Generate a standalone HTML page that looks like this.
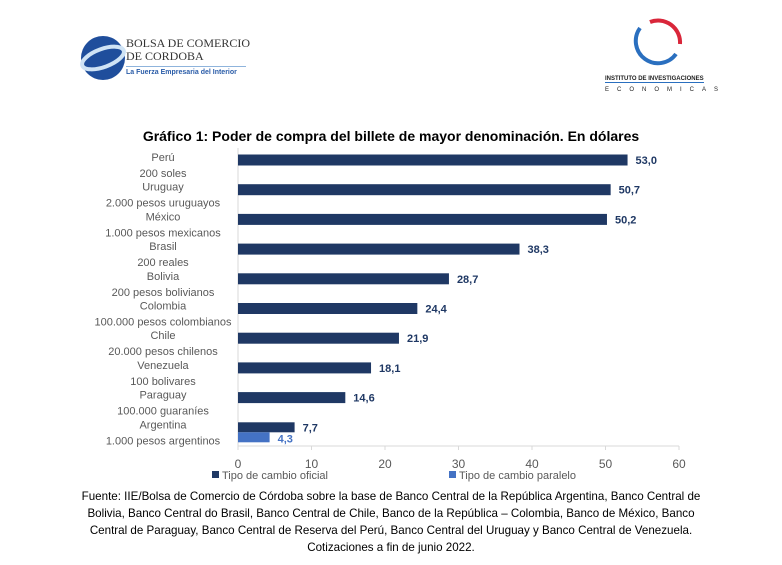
<!DOCTYPE html>
<html><head><meta charset="utf-8"><style>
body{margin:0;width:782px;height:565px;background:#fff;font-family:"Liberation Sans",sans-serif;overflow:hidden;position:relative}
.abs{position:absolute;white-space:nowrap}
</style></head><body>
<div class="abs" style="left:80px;top:32px;width:180px;height:50px">
<svg width="50" height="48" style="position:absolute;left:0;top:2px"><ellipse cx="23" cy="24" rx="22" ry="22" fill="#1f4e9c"/><ellipse cx="23" cy="24" rx="22" ry="9" fill="none" stroke="#cfe3f5" stroke-width="4" transform="rotate(-20 23 24)"/></svg>
<div class="abs" style="left:46px;top:5px;font-family:'Liberation Serif',serif;font-size:12px;line-height:13px;color:#333">BOLSA DE COMERCIO<br>DE CORDOBA</div>
<div class="abs" style="left:46px;top:34px;width:120px;border-top:1px solid #8fb4dc"></div>
<div class="abs" style="left:46px;top:37px;font-size:7px;color:#2a5ca8;font-weight:bold">La Fuerza Empresaria del Interior</div>
</div>
<div class="abs" style="left:600px;top:14px;width:110px;height:85px">
<svg width="110" height="60"><path d="M40 14 A22 22 0 1 0 76 40" fill="none" stroke="#2a6fbf" stroke-width="4"/><path d="M50 8 A22 22 0 0 1 80 30" fill="none" stroke="#d9263a" stroke-width="4"/></svg>
<div class="abs" style="left:5px;top:62px;font-size:6px;font-weight:bold;color:#222;border-bottom:1px solid #2a6fbf">INSTITUTO DE INVESTIGACIONES</div>
<div class="abs" style="left:5px;top:73px;font-size:6px;letter-spacing:8px;color:#222">ECONOMICAS</div>
</div>
<div class="abs" style="left:0;width:782px;top:128px;text-align:center;font-size:14px;font-weight:bold;color:#000">Gráfico 1: Poder de compra del billete de mayor denominación. En dólares</div>
<svg id="chart" class="abs" style="left:0;top:0" width="782" height="565"></svg>
<div style="position:absolute;left:0;width:782px;top:488px;text-align:center;font-size:11.6px;line-height:17px;color:#000;white-space:nowrap">Fuente: IIE/Bolsa de Comercio de Córdoba sobre la base de Banco Central de la República Argentina, Banco Central de<br>Bolivia, Banco Central do Brasil, Banco Central de Chile, Banco de la República – Colombia, Banco de México, Banco<br>Central de Paraguay, Banco Central de Reserva del Perú, Banco Central del Uruguay y Banco Central de Venezuela.<br>Cotizaciones a fin de junio 2022.</div>
<script>
const countries=["Perú","Uruguay","México","Brasil","Bolivia","Colombia","Chile","Venezuela","Paraguay","Argentina"];
const bills=["200 soles","2.000 pesos uruguayos","1.000 pesos mexicanos","200 reales","200 pesos bolivianos","100.000 pesos colombianos","20.000 pesos chilenos","100 bolivares","100.000 guaraníes","1.000 pesos argentinos"];
const oficial=[53.0,50.7,50.2,38.3,28.7,24.4,21.9,18.1,14.6,7.7];
const paralelo=[null,null,null,null,null,null,null,null,null,4.3];
const ticks=[0,10,20,30,40,50,60];
const svg=document.getElementById('chart');const NS='http://www.w3.org/2000/svg';
const x=v=>238+v*(679-238)/60;
const yc=i=>160+i*29.7;
function mk(t,a,txt){const e=document.createElementNS(NS,t);for(const k in a)e.setAttribute(k,a[k]);if(txt!=null)e.textContent=txt;svg.appendChild(e);return e;}
const fmt=v=>v.toFixed(1).replace('.',',');
let ax=mk('line',{x1:238,x2:679,y1:446,y2:446,stroke:'#d9d9d9'});

let ay=mk('line',{x1:238,x2:238,y1:148,y2:446,stroke:'#d9d9d9'});

ticks.forEach(t=>{
 let l=mk('line',{x1:x(t),x2:x(t),y1:446,y2:450,stroke:'#d9d9d9'});
 
 let tx=mk('text',{x:x(t),y:468,'text-anchor':'middle','font-size':12,fill:'#595959'},t);
 
});
countries.forEach((c,i)=>{
 const par=paralelo[i]!=null;
 const y0=par?yc(i)-5:yc(i)-5.5;
 const h=par?10:11;
 let r=mk('rect',{x:238,y:y0,width:x(oficial[i])-238,height:h,fill:'#1f3864'});
 
 let v=mk('text',{x:x(oficial[i])+8,y:y0+h/2+4,'font-size':11,'font-weight':'bold',fill:'#1f3864'},fmt(oficial[i]));
 
 if(par){
  let r2=mk('rect',{x:238,y:y0+h,width:x(paralelo[i])-238,height:h,fill:'#4472c4'});
  
  let v2=mk('text',{x:x(paralelo[i])+8,y:y0+h+h/2+5,'font-size':11,'font-weight':'bold',fill:'#4472c4'},fmt(paralelo[i]));
  
 }
 let n=mk('text',{x:163,y:yc(i)+1,'text-anchor':'middle','font-size':11,fill:'#595959'},c);
 
 let b=mk('text',{x:163,y:yc(i)+17,'text-anchor':'middle','font-size':11,fill:'#595959'},bills[i]);
 
});
let l1=mk('rect',{x:212,y:471,width:7,height:7,fill:'#1f3864'});

let t1=mk('text',{x:222,y:479,'font-size':11,fill:'#595959'},'Tipo de cambio oficial');

let l2=mk('rect',{x:449,y:471,width:7,height:7,fill:'#4472c4'});

let t2=mk('text',{x:459,y:479,'font-size':11,fill:'#595959'},'Tipo de cambio paralelo');

</script>
</body></html>
